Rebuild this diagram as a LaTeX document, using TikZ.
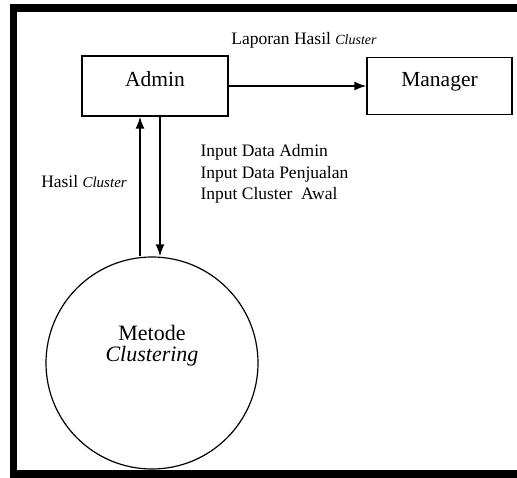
\documentclass[tikz,border=0pt]{standalone}
\usepackage{fontspec}
\setmainfont{Liberation Serif}
\usetikzlibrary{arrows.meta}

\tikzset{
  kotak/.style={draw, line width=1.2pt, rectangle, minimum width=146pt, minimum height=60pt, font=\fontsize{21.5}{24}\selectfont, text height=15pt, text depth=15pt},
  proses/.style={draw, line width=1.2pt, circle, minimum size=212pt, inner sep=0pt},
  isiproses/.style={align=center, font=\fontsize{22}{21}\selectfont, yshift=17pt},
  alur/.style={line width=1.8pt, -{Latex[length=12pt,width=9pt]}},
  ket/.style={font=\fontsize{17.5}{21.5}\selectfont, align=left}
}

\begin{document}
\begin{tikzpicture}[x=1pt,y=-1pt]
                \useasboundingbox (0,0) rectangle (517,477) ;
                % bingkai
                \draw [line width=7.5pt] (517,8) -- (13.5,8) -- (13.5,474) -- (517,474) ;
                % entitas dan proses
                \draw (155,86) node[kotak] (admin) {Admin} ;
                \draw (439.5,86) node[kotak, minimum width=145pt, minimum height=57pt] (manager) {Manager} ;
                \draw (152,363) node[proses, label={[isiproses]center:Metode\\\textit{Clustering}}] (metode) {} ;
                % aliran data
                \draw [alur] (admin.east) -- (manager.west) ;
                \draw [alur] ([xshift=-12pt]metode.north) -- ([xshift=-15pt]admin.south) ;
                \draw [alur] ([xshift=5pt]admin.south) -- ([xshift=8pt]metode.north) ;
                % keterangan
                \draw (304,40) node[ket] (lapor) {Laporan Hasil {\fontsize{14}{16}\selectfont\itshape Cluster}} ;
                \draw (84,182) node[ket] (hasil) {Hasil {\fontsize{15}{17}\selectfont\itshape Cluster}} ;
                \draw (197,174) node[ket, anchor=west] (input) {Input Data Admin\\Input Data Penjualan\\Input Cluster\ \ Awal} ;
\end{tikzpicture}
\end{document}
